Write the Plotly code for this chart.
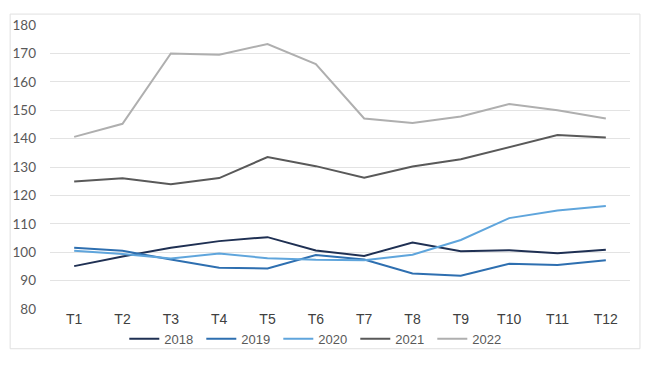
import plotly.graph_objects as go

categories = ["T1", "T2", "T3", "T4", "T5", "T6", "T7", "T8", "T9", "T10", "T11", "T12"]
s2018 = [95.1, 98.5, 101.6, 103.9, 105.3, 100.6, 98.7, 103.4, 100.3, 100.7, 99.6, 100.9]
s2019 = [101.6, 100.5, 97.4, 94.5, 94.3, 99.0, 97.4, 92.5, 91.7, 95.9, 95.5, 97.2]
s2020 = [100.5, 99.4, 97.8, 99.5, 97.9, 97.3, 97.2, 99.1, 104.3, 112.0, 114.7, 116.3]
s2021 = [124.9, 126.0, 123.9, 126.1, 133.5, 130.3, 126.2, 130.2, 132.7, 136.9, 141.3, 140.4]
s2022 = [140.6, 145.2, 170.0, 169.5, 173.3, 166.2, 147.1, 145.5, 147.8, 152.2, 150.0, 147.1]

series = [
    ("2018", s2018, "#1F3053"),
    ("2019", s2019, "#2E6FB0"),
    ("2020", s2020, "#5FA5DC"),
    ("2021", s2021, "#595959"),
    ("2022", s2022, "#AFAFAF"),
]

fig = go.Figure()
for name, vals, color in series:
    fig.add_trace(go.Scatter(x=categories, y=vals, name=name, mode="lines",
                             line=dict(color=color, width=2)))

fig.update_layout(
    width=650, height=366,
    margin=dict(l=48, r=20, t=25, b=55),
    paper_bgcolor="white", plot_bgcolor="white",
    showlegend=True,
    legend=dict(orientation="h", x=0.46, xanchor="center", y=-0.105, yanchor="middle",
                bgcolor="rgba(0,0,0,0)",
                font=dict(family="Liberation Sans, Arial", size=13, color="#595959"),
                itemwidth=30, entrywidth=32, entrywidthmode="pixels", tracegroupgap=0),
    xaxis=dict(type="category", range=[-0.5, 11.5], showgrid=False, showline=False,
               zeroline=False, ticks="",
               tickfont=dict(family="Liberation Sans, Arial", size=14, color="#404040")),
    yaxis=dict(range=[80, 180], dtick=10, tick0=80, showgrid=True, gridcolor="#E3E3E3",
               gridwidth=1, zeroline=False, showline=False, ticks="",
               ticklabelstandoff=13,
               tickfont=dict(family="Lato, Open Sans", size=13.5, color="#595959")),
    shapes=[dict(type="rect", xref="paper", yref="paper",
                 x0=(8 - 48) / 582, x1=(640 - 48) / 582,
                 y0=(311 - 351) / 286, y1=(311 - 14) / 286,
                 line=dict(color="#E0E0E0", width=1), fillcolor="rgba(0,0,0,0)", layer="below")],
)

fig.write_html("out.html", config={"displayModeBar": False},
               post_script="document.body.style.margin='0';")
